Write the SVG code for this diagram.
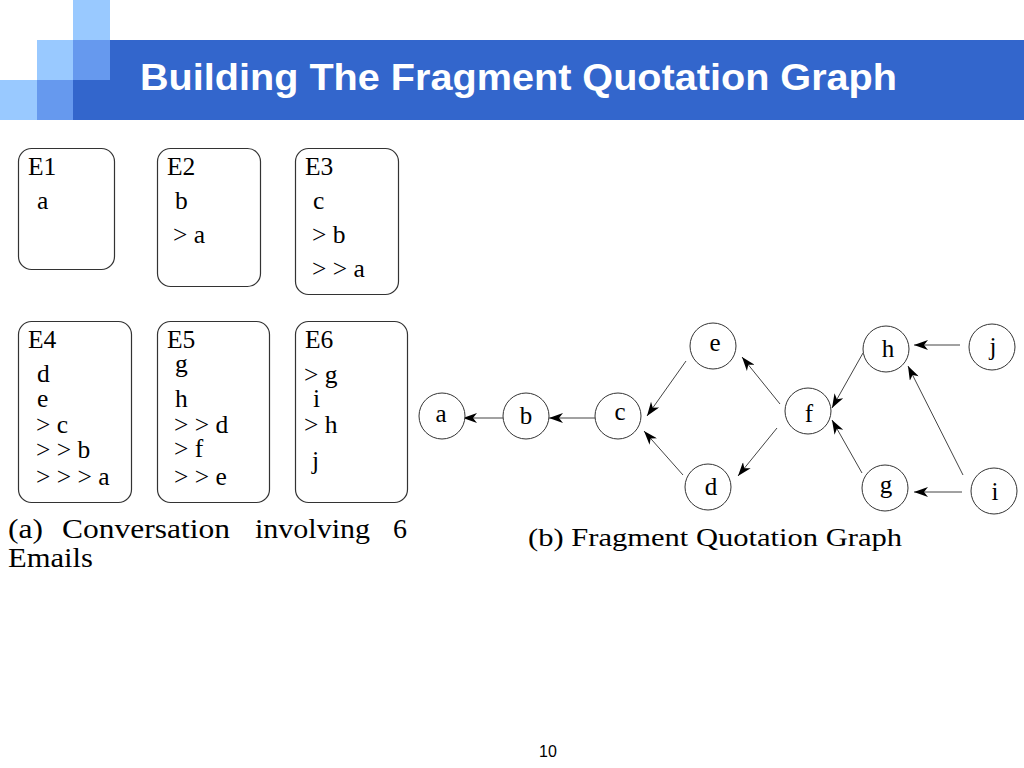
<svg xmlns="http://www.w3.org/2000/svg" width="1024" height="768" viewBox="0 0 1024 768">
<style>
.box{fill:#fff;stroke:#333;stroke-width:1.2}
.t{font-family:"Liberation Serif",serif;font-size:25.5px;fill:#000}
.cap{font-family:"Liberation Serif",serif;font-size:28px;fill:#000}
.node{fill:#fff;stroke:#333;stroke-width:1}
.nl{font-family:"Liberation Serif",serif;font-size:25px;fill:#000;text-anchor:middle}
.edge{stroke:#444;stroke-width:1;fill:none;marker-end:url(#ah)}
</style>
<defs>
<marker id="ah" markerUnits="userSpaceOnUse" viewBox="-15 -5 16 10" markerWidth="16" markerHeight="10" refX="0" refY="0" orient="auto">
<path d="M0,0 L-14,-5 L-10,0 L-14,5 Z" fill="#000"/>
</marker>
</defs>
<rect width="1024" height="768" fill="#fff"/>
<g id="header">
<rect x="73" y="0" width="37" height="40" fill="#99c9ff"/>
<rect x="37" y="40" width="36" height="40" fill="#99c9ff"/>
<rect x="0" y="80" width="37" height="40" fill="#99c9ff"/>
<rect x="73" y="40" width="37" height="40" fill="#6699ee"/>
<rect x="37" y="80" width="36" height="40" fill="#6699ee"/>
<rect x="110" y="40" width="914" height="80" fill="#3366cc"/>
<rect x="73" y="80" width="37" height="40" fill="#3366cc"/>
<text x="140" y="90" font-family="Liberation Sans, Arial, sans-serif" font-weight="bold" font-size="37" fill="#fff" textLength="757" lengthAdjust="spacingAndGlyphs">Building The Fragment Quotation Graph</text>
</g>
<g id="E1">
<rect class="box" x="18.5" y="148.5" width="96" height="121" rx="13"/>
<text class="t" x="28" y="175">E1</text>
<text class="t" x="37" y="209">a</text>
</g>
<g id="E2">
<rect class="box" x="157.5" y="148.5" width="103" height="138" rx="13"/>
<text class="t" x="167" y="175">E2</text>
<text class="t" x="175" y="209">b</text>
<text class="t" x="173" y="243">&gt; a</text>
</g>
<g id="E3">
<rect class="box" x="295.5" y="148.5" width="103" height="146" rx="13"/>
<text class="t" x="305" y="175">E3</text>
<text class="t" x="313" y="209">c</text>
<text class="t" x="312" y="243">&gt; b</text>
<text class="t" x="312" y="277">&gt; &gt; a</text>
</g>
<g id="E4">
<rect class="box" x="18.5" y="321.5" width="113" height="181" rx="13"/>
<text class="t" x="28" y="348">E4</text>
<text class="t" x="37" y="382">d</text>
<text class="t" x="37" y="407">e</text>
<text class="t" x="36" y="433">&gt; c</text>
<text class="t" x="36" y="458">&gt; &gt; b</text>
<text class="t" x="36" y="485">&gt; &gt; &gt; a</text>
</g>
<g id="E5">
<rect class="box" x="157.5" y="321.5" width="112" height="181" rx="13"/>
<text class="t" x="167" y="348">E5</text>
<text class="t" x="175" y="372">g</text>
<text class="t" x="175" y="407">h</text>
<text class="t" x="174" y="433">&gt; &gt; d</text>
<text class="t" x="174" y="457">&gt; f</text>
<text class="t" x="174" y="485">&gt; &gt; e</text>
</g>
<g id="E6">
<rect class="box" x="295.5" y="321.5" width="112" height="181" rx="13"/>
<text class="t" x="305" y="348">E6</text>
<text class="t" x="304" y="383">&gt; g</text>
<text class="t" x="313" y="407">i</text>
<text class="t" x="304" y="433">&gt; h</text>
<text class="t" x="312" y="469">j</text>
</g>
<g id="caption-a">
<text class="cap" x="8" y="538" textLength="35" lengthAdjust="spacingAndGlyphs">(a)</text>
<text class="cap" x="62" y="538" textLength="168" lengthAdjust="spacingAndGlyphs">Conversation</text>
<text class="cap" x="255" y="538" textLength="115" lengthAdjust="spacingAndGlyphs">involving</text>
<text class="cap" x="393" y="538">6</text>
<text class="cap" x="8" y="567" textLength="85" lengthAdjust="spacingAndGlyphs">Emails</text>
</g>
<g id="connectors">
<line class="edge" x1="503" y1="418" x2="463" y2="418"/>
<line class="edge" x1="595" y1="418" x2="549" y2="418"/>
<line class="edge" x1="686" y1="361" x2="647" y2="416"/>
<line class="edge" x1="683" y1="475" x2="644" y2="431"/>
<line class="edge" x1="780" y1="404" x2="742" y2="357"/>
<line class="edge" x1="777" y1="428" x2="738" y2="476"/>
<line class="edge" x1="863" y1="353" x2="832" y2="408"/>
<line class="edge" x1="862" y1="473" x2="832" y2="420"/>
<line class="edge" x1="960" y1="345" x2="914" y2="345"/>
<line class="edge" x1="963" y1="475" x2="908" y2="366"/>
<line class="edge" x1="962" y1="492" x2="914" y2="492"/>
</g>
<g id="node-a"><circle class="node" cx="442" cy="416" r="23"/><text class="nl" x="441" y="422">a</text></g>
<g id="node-b"><circle class="node" cx="526" cy="416" r="23"/><text class="nl" x="526" y="424">b</text></g>
<g id="node-c"><circle class="node" cx="618" cy="416" r="23"/><text class="nl" x="620" y="420">c</text></g>
<g id="node-e"><circle class="node" cx="713" cy="346" r="23"/><text class="nl" x="715" y="351">e</text></g>
<g id="node-d"><circle class="node" cx="708" cy="487" r="23"/><text class="nl" x="711" y="495">d</text></g>
<g id="node-f"><circle class="node" cx="808" cy="411" r="23"/><text class="nl" x="809" y="422">f</text></g>
<g id="node-h"><circle class="node" cx="886" cy="349" r="23"/><text class="nl" x="888" y="357">h</text></g>
<g id="node-j"><circle class="node" cx="992" cy="347" r="23"/><text class="nl" x="993" y="355">j</text></g>
<g id="node-g"><circle class="node" cx="885" cy="488" r="23"/><text class="nl" x="886" y="493">g</text></g>
<g id="node-i"><circle class="node" cx="994" cy="491" r="23"/><text class="nl" x="995" y="500">i</text></g>
<g id="caption-b">
<text x="528" y="546" font-family="Liberation Serif, serif" font-size="25" fill="#000" textLength="374" lengthAdjust="spacingAndGlyphs">(b) Fragment Quotation Graph</text>
</g>
<g id="page-number">
<text x="548" y="757" font-family="Liberation Sans, Arial, sans-serif" font-size="16" fill="#000" text-anchor="middle">10</text>
</g>
</svg>
